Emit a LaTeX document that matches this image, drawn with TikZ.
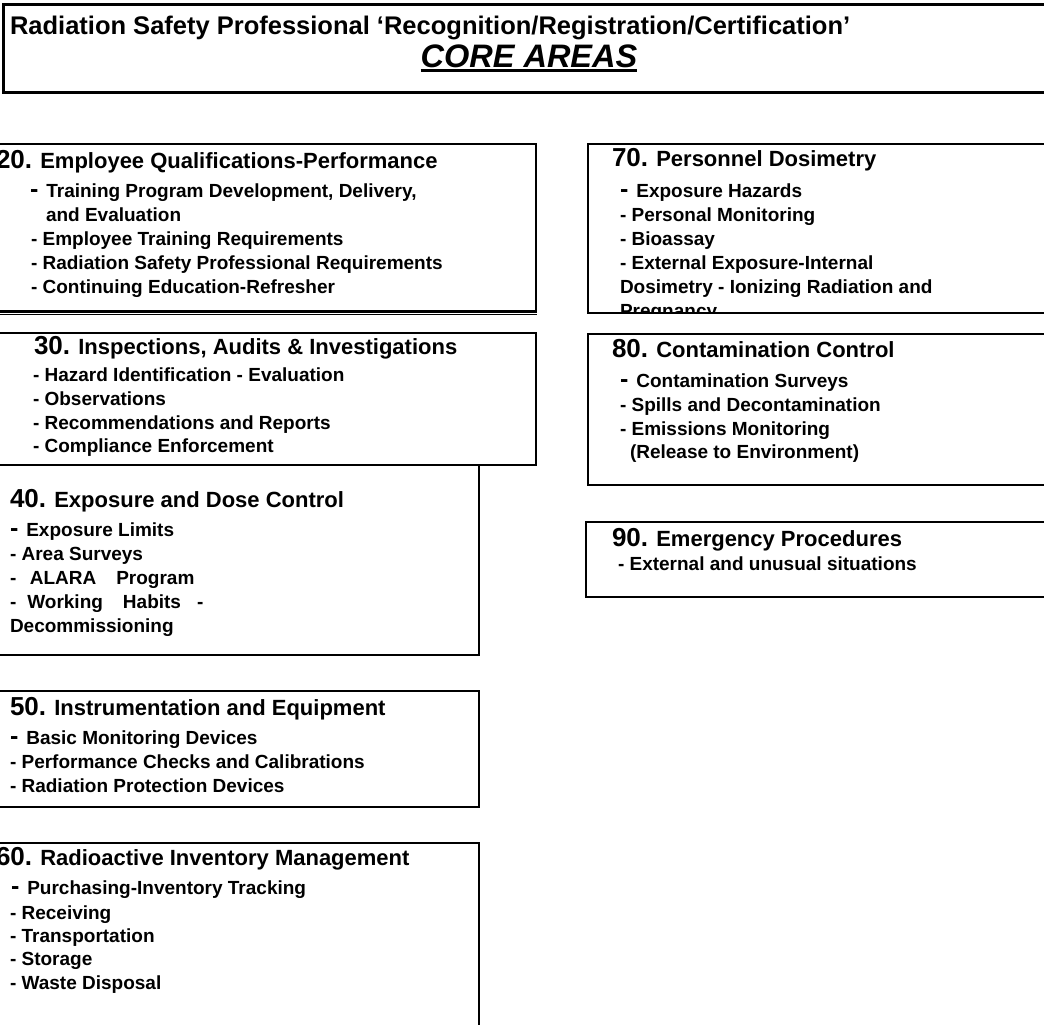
\documentclass[tikz,border=0pt]{standalone}
\usepackage{fontspec}
\setmainfont{Liberation Sans}
\newcommand\itemf{\fontsize{19}{23}\selectfont\bfseries}
\newcommand\headf{\fontsize{22}{26}\selectfont\bfseries}
\newcommand\numf{\fontsize{26}{30}\selectfont\bfseries}
\newcommand\titlef{\fontsize{25.5}{30}\selectfont\bfseries}
\newcommand\coref{\fontsize{32.5}{36}\selectfont\bfseries\itshape}
\newcommand\bigdash{{\fontsize{25}{25}\selectfont -}\hspace{8pt}}
\begin{document}
\begin{tikzpicture}[x=1pt,y=-1pt,
  txt/.style={anchor=base west,inner sep=0pt,outer sep=0pt},
  itm/.style={txt,font=\itemf},
  hd/.style={txt,font=\headf},
  frame/.style={draw,line width=2.2pt},
  tframe/.style={draw,line width=3pt}]
\useasboundingbox (0,0) rectangle (1044,1025);
% title box
\draw[tframe] (1060,5) -- (3,5) -- (3,92) -- (1060,92);
\node[txt,font=\titlef] (title) at (10,35) {Radiation Safety Professional ‘Recognition/Registration/Certification’};
\node[anchor=base,inner sep=0pt,outer sep=0pt,font=\coref] (core) at (529,67) {CORE AREAS};
\draw[line width=3pt] ([yshift=-4pt]core.base west) -- ([yshift=-4pt]core.base east);

% frames
\draw[frame] (-10,144) -- (536,144) -- (536,311.5) -- (-10,311.5);
\draw[line width=1pt] (-10,314.8) -- (537,314.8);
\draw[frame] (-10,333) -- (536,333) -- (536,465) -- (-10,465);
\draw[frame] (479,465) -- (479,655) -- (-10,655);
\draw[frame] (-10,691) -- (479,691) -- (479,807) -- (-10,807);
\draw[frame] (-10,843) -- (479,843) -- (479,1040);
\draw[frame] (1060,144) -- (588,144) -- (588,313) -- (1060,313);
\draw[frame] (1060,334) -- (588,334) -- (588,485) -- (1060,485);
\draw[frame] (1060,522) -- (586,522) -- (586,597) -- (1060,597);

% 20
\node[hd] (h20) at (-4,168) {{\numf 20.} Employee Qualifications-Performance};
\node[itm] (i20a) at (30,197) {\bigdash Training Program Development, Delivery,};
\node[itm] (i20b) at (46,221) {and Evaluation};
\node[itm] (i20c) at (31,245) {- Employee Training Requirements};
\node[itm] (i20d) at (31,269) {- Radiation Safety Professional Requirements};
\node[itm] (i20e) at (31,293) {- Continuing Education-Refresher};
% 30
\node[hd] (h30) at (34,354) {{\numf 30.} Inspections, Audits \& Investigations};
\node[itm] (i30a) at (33,381) {- Hazard Identification - Evaluation};
\node[itm] (i30b) at (33,405) {- Observations};
\node[itm] (i30c) at (33,429) {- Recommendations and Reports};
\node[itm] (i30d) at (33,452) {- Compliance Enforcement};
% 40
\node[hd] (h40) at (10,507) {{\numf 40.} Exposure and Dose Control};
\node[itm] (i40a) at (10,536) {\bigdash Exposure Limits};
\node[itm] (i40b) at (10,560) {- Area Surveys};
\node[itm] (i40c) at (10,584) {-\hspace{13.5pt}ALARA\hspace{20pt}Program};
\node[itm] (i40d) at (10,608) {-\hspace{11pt}Working\hspace{20pt}Habits\hspace{16pt}-};
\node[itm] (i40e) at (10,632) {Decommissioning};
% 50
\node[hd] (h50) at (10,715) {{\numf 50.} Instrumentation and Equipment};
\node[itm] (i50a) at (10,744) {\bigdash Basic Monitoring Devices};
\node[itm] (i50b) at (10,768) {- Performance Checks and Calibrations};
\node[itm] (i50c) at (10,792) {- Radiation Protection Devices};
% 60
\node[hd] (h60) at (-4,865) {{\numf 60.} Radioactive Inventory Management};
\node[itm] (i60a) at (11,894) {\bigdash Purchasing-Inventory Tracking};
\node[itm] (i60b) at (10,919) {- Receiving};
\node[itm] (i60c) at (10,942) {- Transportation};
\node[itm] (i60d) at (10,965) {- Storage};
\node[itm] (i60e) at (10,989) {- Waste Disposal};
% 70
\node[hd] (h70) at (612,166) {{\numf 70.} Personnel Dosimetry};
\node[itm] (i70a) at (620,197) {\bigdash Exposure Hazards};
\node[itm] (i70b) at (620,221) {- Personal Monitoring};
\node[itm] (i70c) at (620,245) {- Bioassay};
\node[itm] (i70d) at (620,269) {- External Exposure-Internal};
\node[itm] (i70e) at (620,293) {Dosimetry - Ionizing Radiation and};
\begin{scope}
\clip (589,145) rectangle (1060,312);
\node[itm] (i70f) at (620,317) {Pregnancy};
\end{scope}
% 80
\node[hd] (h80) at (612,357) {{\numf 80.} Contamination Control};
\node[itm] (i80a) at (620,387) {\bigdash Contamination Surveys};
\node[itm] (i80b) at (620,411) {- Spills and Decontamination};
\node[itm] (i80c) at (620,435) {- Emissions Monitoring};
\node[itm] (i80d) at (630,458) {(Release to Environment)};
% 90
\node[hd] (h90) at (612,546) {{\numf 90.} Emergency Procedures};
\node[itm] (i90a) at (618,570) {- External and unusual situations};
\end{tikzpicture}
\end{document}
